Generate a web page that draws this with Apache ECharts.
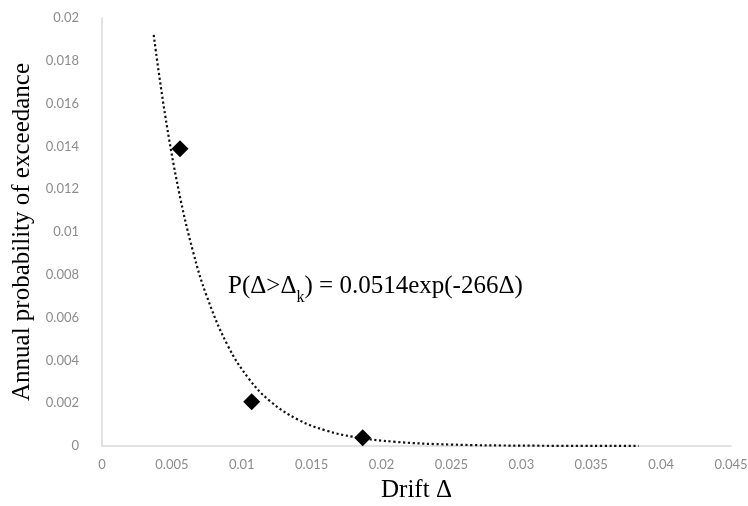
<!DOCTYPE html>
<html>
<head>
<meta charset="utf-8">
<script src="https://cdn.jsdelivr.net/npm/echarts@6/dist/echarts.min.js"></script>
<style>
  html, body { margin: 0; padding: 0; background: #fff; }
  #chart { width: 748px; height: 506px; }
</style>
</head>
<body>
<div id="chart"></div>
<script>
// Observed drift / exceedance pairs
const driftValues = [0.00558, 0.01071, 0.01865];
const exceedanceValues = [0.01389, 0.00207, 0.00039];

// Fitted exponential trend, P = 0.0514 exp(-266 Δ), tabulated
const trendDrift = [0.0037, 0.0045, 0.0055, 0.0065, 0.0075, 0.009, 0.0105, 0.012, 0.014, 0.016, 0.018, 0.021, 0.025, 0.03, 0.0384];
const trendProb = [0.01921, 0.01553, 0.01190, 0.00912, 0.00699, 0.00469, 0.00315, 0.00211, 0.00124, 0.000729, 0.000428, 0.000193, 0.0000665, 0.0000176, 0.0000019];

// Axis ticks
const xTicks = [0, 0.005, 0.01, 0.015, 0.02, 0.025, 0.03, 0.035, 0.04, 0.045];
const yTicks = [0, 0.002, 0.004, 0.006, 0.008, 0.01, 0.012, 0.014, 0.016, 0.018, 0.02];

const xAxisTitle = 'Drift Δ';
const yAxisTitle = 'Annual probability of exceedance';

const points = driftValues.map((x, i) => [x, exceedanceValues[i]]);
const trend = trendDrift.map((x, i) => [x, trendProb[i]]);

const tickFont = { color: '#8c8c8c', fontSize: 13, fontFamily: 'Lato, "Open Sans", sans-serif' };
const serif = '"Liberation Serif", "Times New Roman", serif';

const chart = echarts.init(document.getElementById('chart'), null, { renderer: 'canvas' });
chart.setOption({
  animation: false,
  backgroundColor: '#fff',
  grid: { left: 102, right: 17, top: 18, bottom: 60, containLabel: false, outerBoundsMode: 'none' },
  xAxis: {
    type: 'value',
    min: xTicks[0],
    max: xTicks[xTicks.length - 1],
    interval: 0.005,
    name: xAxisTitle,
    nameLocation: 'middle',
    nameGap: 32,
    nameTextStyle: { color: '#000', fontSize: 25, fontFamily: serif },
    axisLine: { show: true, lineStyle: { color: '#d9d9d9', width: 1.5 } },
    axisTick: { show: false },
    splitLine: { show: false },
    axisLabel: Object.assign({ margin: 12, formatter: v => String(+v.toFixed(4)) }, tickFont)
  },
  yAxis: {
    type: 'value',
    min: yTicks[0],
    max: yTicks[yTicks.length - 1],
    interval: 0.002,
    name: yAxisTitle,
    nameLocation: 'middle',
    nameGap: 60,
    nameTextStyle: { color: '#000', fontSize: 25, fontFamily: serif },
    axisLine: { show: true, lineStyle: { color: '#d9d9d9', width: 1.5 } },
    axisTick: { show: false },
    splitLine: { show: false },
    axisLabel: Object.assign({ margin: 23, formatter: v => String(+v.toFixed(4)) }, tickFont)
  },
  series: [
    {
      type: 'line',
      data: trend,
      smooth: 0.4,
      showSymbol: false,
      symbol: 'none',
      lineStyle: { color: '#111', width: 2.2, type: [2.2, 2.6] },
      z: 2
    },
    {
      type: 'scatter',
      data: points,
      symbol: 'diamond',
      symbolSize: [17, 17],
      itemStyle: { color: '#000', opacity: 1 },
      z: 3
    }
  ],
  graphic: [
    {
      type: 'text',
      left: 228,
      top: 266,
      style: {
        text: '{m|P(Δ>Δ}{s|k}{m|) = 0.0514exp(-266Δ)}',
        rich: {
          m: { fontSize: 25, fontFamily: serif, fill: '#000', color: '#000', lineHeight: 30 },
          s: { fontSize: 16, fontFamily: serif, fill: '#000', color: '#000', padding: [24, 0, 0, 0], lineHeight: 30 }
        }
      }
    }
  ]
});
</script>
</body>
</html>
